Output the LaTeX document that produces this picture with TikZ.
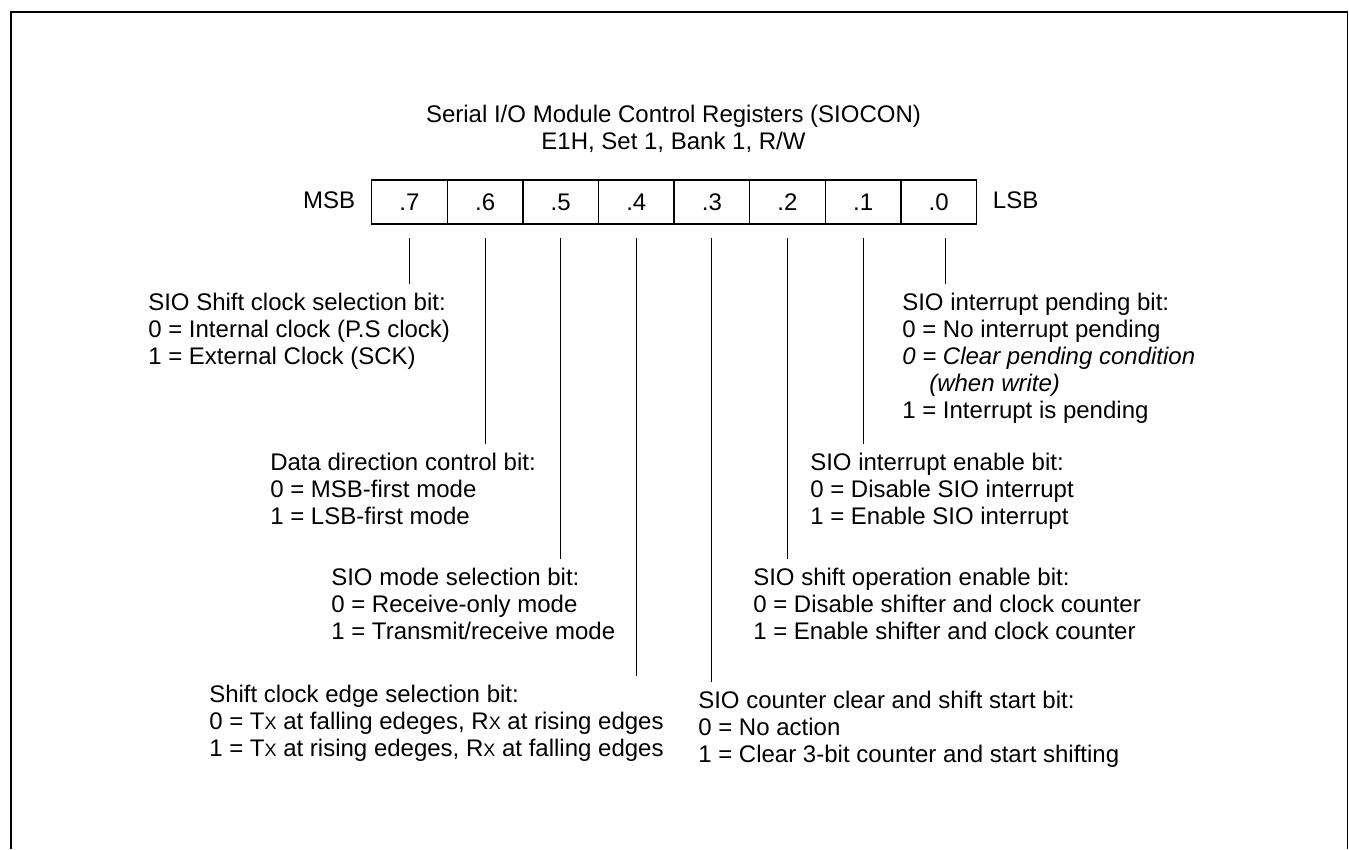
\documentclass[tikz,border=0pt]{standalone}
\usepackage{fontspec}
\setmainfont{Liberation Sans}
\usetikzlibrary{calc}
\newcommand{\scX}{{\fontsize{12.8pt}{12.8pt}\selectfont X}}

\begin{document}
\begin{tikzpicture}[x=0.025cm, y=-0.025cm,
    every node/.style={font=\fontsize{17.07pt}{19.2pt}\selectfont},
    cell/.style={draw, line width=0.9pt, minimum width=1.89cm, minimum height=1.1cm, inner sep=0pt, outer sep=0pt},
    desc/.style={anchor=north west, align=left, inner sep=0pt},
    lead/.style={line width=0.75pt}]
    \useasboundingbox (0,0) rectangle (1349,849);
    % frame, open at the bottom
    \draw[line width=1.4pt] (11,849) -- (11,12) -- (1347.5,12) -- (1347.5,849);

    % title
    \node[anchor=north, align=center, inner sep=0pt] (title) at (673.5,105) {Serial I/O Module Control Registers (SIOCON)\\E1H, Set 1, Bank 1, R/W};

    % register
    \foreach \i in {7,...,0}
        \node[cell] (c\i) at ({409.5+(7-\i)*75.6},202) {.\i};
    \node[anchor=base east] (msb) at (360,208) {MSB};
    \node[anchor=base west] (lsb) at (988,208) {LSB};

    % bit descriptions
    \node[desc] (d7) at (148,293) {SIO Shift clock selection bit:\\0 = Internal clock (P.S clock)\\1 = External Clock (SCK)};
    \node[desc] (d6) at (270,453) {Data direction control bit:\\0 = MSB-first mode\\1 = LSB-first mode};
    \node[desc] (d5) at (331,568) {SIO mode selection bit:\\0 = Receive-only mode\\1 = Transmit/receive mode};
    \node[desc] (d4) at (209,685) {Shift clock edge selection bit:\\0 = T\scX{} at falling edeges, R\scX{} at rising edges\\1 = T\scX{} at rising edeges, R\scX{} at falling edges};
    \node[desc] (d3) at (698,691) {SIO counter clear and shift start bit:\\0 = No action\\1 = Clear 3-bit counter and start shifting};
    \node[desc] (d2) at (753,568) {SIO shift operation enable bit:\\0 = Disable shifter and clock counter\\1 = Enable shifter and clock counter};
    \node[desc] (d1) at (810,453) {SIO interrupt enable bit:\\0 = Disable SIO interrupt\\1 = Enable SIO interrupt};
    \node[desc] (d0) at (902,293) {SIO interrupt pending bit:\\0 = No interrupt pending\\\textit{0 = Clear pending condition}\\\hspace*{0.675cm}\textit{(when write)}\\1 = Interrupt is pending};

    % leads from the cells down to the texts
    \foreach \i/\dx in {7/0,6/0,5/0,4/0,3/0,2/0,1/0,0/7}
        \draw[lead] ($(c\i.south)+(\dx,14)$) -- ($(c\i.south |- d\i.north)+(\dx,-9)$);
\end{tikzpicture}
\end{document}
